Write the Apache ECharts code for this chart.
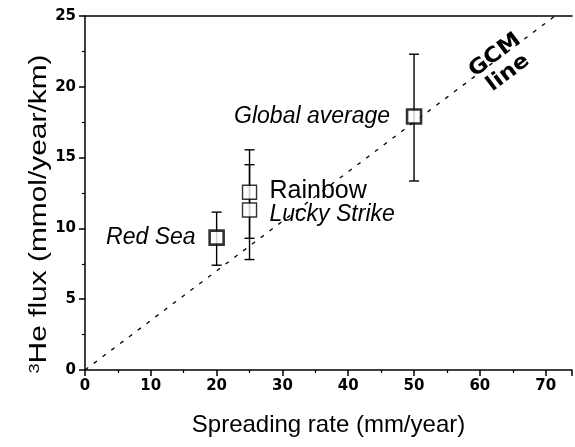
<!DOCTYPE html>
<html><head><meta charset="utf-8">
<script src="https://cdn.jsdelivr.net/npm/echarts@6/dist/echarts.min.js"></script>
<style>html,body{margin:0;padding:0;background:#fff}#c{width:575px;height:447px}</style>
</head><body><div id="c"></div>
<script>
// Data
const siteNames = ['Red Sea', 'Rainbow', 'Lucky Strike', 'Global average'];
const spreadingRate = [20, 25, 25, 50];
const he3Flux = [9.35, 12.55, 11.3, 17.9];
const errLow = [7.4, 9.3, 7.8, 13.35];
const errHigh = [11.15, 14.5, 15.55, 22.3];
const gcmX = [0, 71.4];
const gcmY = [0, 25];
const gcmLabel = 'GCM\nline';
const gcmLabelAt = [63.3, 21.6];
const xTicks = [0, 10, 20, 30, 40, 50, 60, 70];
const yTicks = [0, 5, 10, 15, 20, 25];

// Styles (not data)
const bold = [true, false, false, true];
const labelStyle = [
  {dx: -21, dy: 0, align: 'right', font: 'italic 23px "Liberation Sans"'},
  {dx: 20, dy: -1, align: 'left', font: '25px "Liberation Sans"'},
  {dx: 20, dy: 5, align: 'left', font: 'italic 23px "Liberation Sans"'},
  {dx: -24, dy: 0, align: 'right', font: 'italic 23px "Liberation Sans"'}
];

const chart = echarts.init(document.getElementById('c'), null, {renderer: 'canvas'});
const tickFont = {fontFamily: 'DejaVu Sans', fontWeight: 'bold', fontSize: 15, color: '#000'};

const pts = siteNames.map((n, i) => ({
  name: n,
  value: [spreadingRate[i], he3Flux[i]],
  itemStyle: {color: '#fff', borderColor: '#000', borderWidth: bold[i] ? 2.6 : 1.4}
}));

chart.setOption({
  animation: false,
  backgroundColor: '#fff',
  grid: {left: 85, right: 2, top: 16, bottom: 77},
  xAxis: [{
    type: 'value', min: 0, max: 74, interval: 10,
    axisLine: {show: true, lineStyle: {color: '#000', width: 1.5}},
    axisTick: {show: true, length: 6, lineStyle: {color: '#000', width: 1.5}},
    minorTick: {show: true, splitNumber: 2, length: 3, lineStyle: {color: '#000', width: 1.2}},
    splitLine: {show: false},
    axisLabel: Object.assign({margin: 9, formatter: v => xTicks.includes(v) ? String(v) : ''}, tickFont),
    name: 'Spreading rate (mm/year)', nameLocation: 'middle', nameGap: 43,
    nameTextStyle: {fontFamily: 'Liberation Sans', fontSize: 24, color: '#000'}
  }, {
    type: 'value', min: 0, max: 74, position: 'top',
    axisLine: {show: true, onZero: false, lineStyle: {color: '#000', width: 1.5}},
    axisTick: {show: false}, axisLabel: {show: false}, splitLine: {show: false}
  }],
  yAxis: {
    type: 'value', min: 0, max: 25, interval: 5,
    axisLine: {show: true, lineStyle: {color: '#000', width: 1.5}},
    axisTick: {show: true, length: 6, lineStyle: {color: '#000', width: 1.5}},
    minorTick: {show: true, splitNumber: 2, length: 3, lineStyle: {color: '#000', width: 1.2}},
    splitLine: {show: false},
    axisLabel: Object.assign({margin: 9, formatter: v => yTicks.includes(v) ? String(v) : ''}, tickFont)
  },
  graphic: [{
    type: 'text', x: 40, y: 214, rotation: Math.PI / 2, scaleX: 1.3, scaleY: 1,
    style: {
      text: '{s|3}He flux (mmol/year/km)', align: 'center', verticalAlign: 'middle',
      font: '23px "Liberation Sans"', fill: '#000',
      rich: {s: {font: '14px "Liberation Sans"', fill: '#000', verticalAlign: 'top', padding: [0, 0, 9, 0]}}
    }
  }],
  series: [
    {
      type: 'line', data: gcmX.map((x, i) => [x, gcmY[i]]), symbol: 'none', z: 1,
      lineStyle: {color: '#000', width: 1.3, type: [4, 7]}
    },
    {
      type: 'custom', z: 2,
      data: siteNames.map((n, i) => [spreadingRate[i], errLow[i], errHigh[i]]),
      renderItem: (params, api) => {
        const lo = api.coord([api.value(0), api.value(1)]);
        const hi = api.coord([api.value(0), api.value(2)]);
        const hw = 5;
        const st = {stroke: '#000', lineWidth: 1.4};
        return {type: 'group', children: [
          {type: 'line', shape: {x1: lo[0], y1: lo[1], x2: hi[0], y2: hi[1]}, style: st},
          {type: 'line', shape: {x1: lo[0] - hw, y1: lo[1], x2: lo[0] + hw, y2: lo[1]}, style: st},
          {type: 'line', shape: {x1: hi[0] - hw, y1: hi[1], x2: hi[0] + hw, y2: hi[1]}, style: st}
        ]};
      }
    },
    {
      type: 'scatter', symbol: 'rect', symbolSize: 14, z: 3, data: pts
    },
    {
      type: 'custom', z: 4,
      data: siteNames.map((n, i) => [spreadingRate[i], he3Flux[i], i]),
      renderItem: (params, api) => {
        const i = api.value(2);
        const p = api.coord([api.value(0), api.value(1)]);
        const s = labelStyle[i];
        return {type: 'text', x: p[0] + s.dx, y: p[1] + s.dy,
          style: {text: siteNames[i], font: s.font, fill: '#000', align: s.align, verticalAlign: 'middle'}};
      }
    },
    {
      type: 'custom', z: 4,
      data: [[gcmLabelAt[0], gcmLabelAt[1]]],
      renderItem: (params, api) => {
        const p = api.coord([api.value(0), api.value(1)]);
        return {type: 'text', x: p[0], y: p[1], rotation: 37 * Math.PI / 180, scaleX: 1.1,
          style: {text: gcmLabel, font: 'bold 21px "DejaVu Sans"', lineHeight: 22, fill: '#000', align: 'center', verticalAlign: 'middle'}};
      }
    }
  ]
});
</script></body></html>
